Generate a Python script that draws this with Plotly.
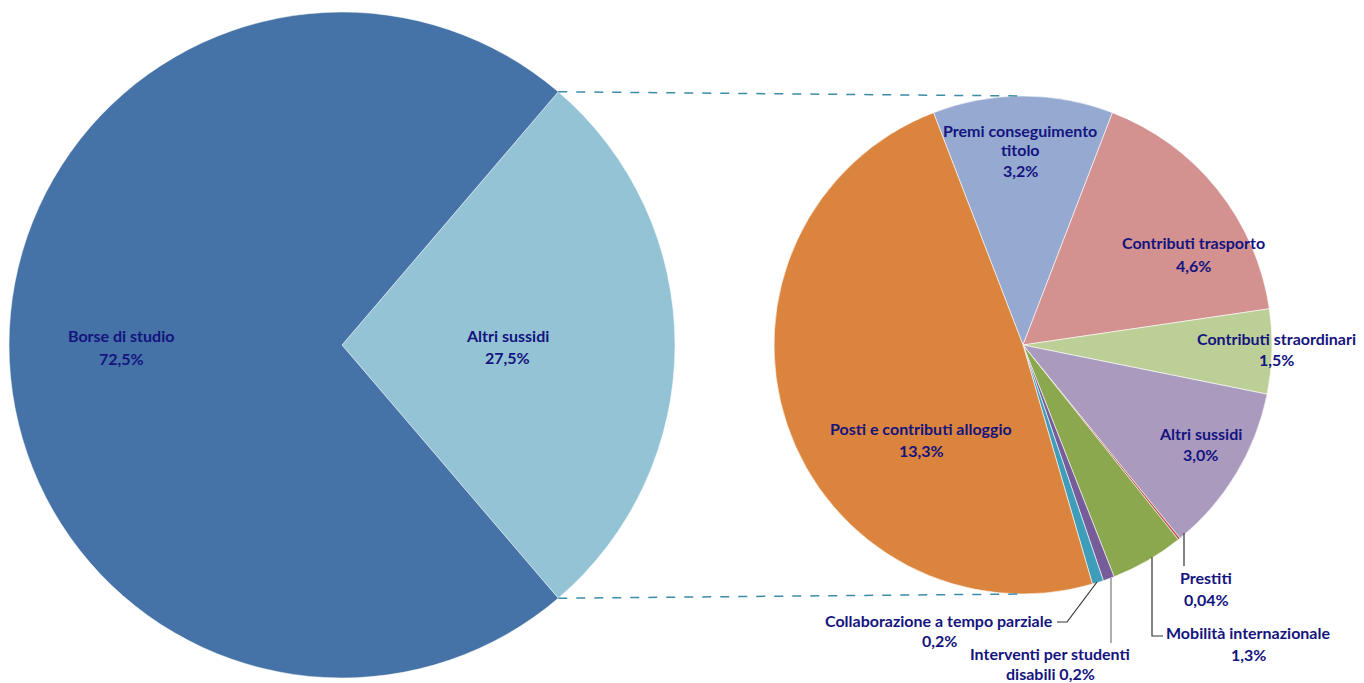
import math
import plotly.graph_objects as go

# ---------------- data ----------------
main_labels = ["Altri sussidi", "Borse di studio"]
main_values = [27.5, 72.5]
main_text = ["27,5%", "72,5%"]

sub_labels = ["Premi conseguimento titolo", "Contributi trasporto", "Contributi straordinari",
              "Altri sussidi", "Prestiti", "Mobilità internazionale",
              "Interventi per studenti disabili", "Collaborazione a tempo parziale",
              "Posti e contributi alloggio"]
sub_values = [3.2, 4.6, 1.5, 3.0, 0.04, 1.3, 0.2, 0.2, 13.3]
sub_text = ["3,2%", "4,6%", "1,5%", "3,0%", "0,04%", "1,3%", "0,2%", "0,2%", "13,3%"]

# ---------------- style / layout ----------------
OFF = 8                      # page body margin
W, H = 1364 - OFF, 683 - OFF
main_colors = ["#93C3D4", "#4572A7"]
sub_colors = ["#95A9D1", "#D39190", "#BCCF96", "#A99ABE", "#C0504D",
              "#8BA84E", "#775C9A", "#3E9DB8", "#DB843D"]
TXT = "#14147E"
FONT = "Lato"
FS = 16

L_C, L_R = (342, 345), 333
R_C, R_R = (1023, 345), 249

def px(x):
    return (x - OFF) / W

def py(y):
    return 1 - (y - OFF) / H

def dom(c, r):
    return dict(x=[px(c[0] - r), px(c[0] + r)], y=[py(c[1] + r), py(c[1] - r)])

main_rot = 90 - main_values[0] / sum(main_values) * 360 / 2
sub_rot = -sub_values[0] / sum(sub_values) * 360 / 2

fig = go.Figure()
fig.add_trace(go.Pie(labels=main_labels, values=main_values, sort=False,
                     direction="clockwise", rotation=main_rot, domain=dom(L_C, L_R),
                     marker=dict(colors=main_colors, line=dict(color="white", width=0.5)),
                     textinfo="none", showlegend=False, name="main"))
fig.add_trace(go.Pie(labels=sub_labels, values=sub_values, sort=False,
                     direction="clockwise", rotation=sub_rot, domain=dom(R_C, R_R),
                     marker=dict(colors=sub_colors, line=dict(color="white", width=0.6)),
                     textinfo="none", showlegend=False, name="sub"))

ann = []
def label(lines, cx, cy, gap=21):
    n = len(lines)
    for i, t in enumerate(lines):
        yy = cy + (i - (n - 1) / 2) * gap
        ann.append(dict(x=px(cx), y=py(yy), xref="paper", yref="paper", text="<b>" + t + "</b>",
                        showarrow=False, font=dict(family=FONT, size=FS, color=TXT),
                        xanchor="center", yanchor="middle"))

label(["Borse di studio", main_text[1]], 121, 347, gap=22)
label(["Altri sussidi", main_text[0]], 507, 346, gap=22)
label(["Premi conseguimento", "titolo", sub_text[0]], 1020, 150, gap=20)
label(["Contributi trasporto", sub_text[1]], 1193, 254, gap=22)
label(["Contributi straordinari", sub_text[2]], 1276, 349, gap=22)
label(["Altri sussidi", sub_text[3]], 1200, 444, gap=21)
label(["Prestiti", sub_text[4]], 1206, 588, gap=22)
label(["Mobilità internazionale", sub_text[5]], 1248, 643, gap=22)
label(["Interventi per studenti", "disabili " + sub_text[6]], 1050, 663, gap=20)
label(["Collaborazione a tempo parziale", sub_text[7]], 939, 630, gap=20)
label(["Posti e contributi alloggio", sub_text[8]], 921, 439, gap=22)

shapes = []
# connector lines between pies (from edge of "Altri sussidi" slice to top/bottom of sub pie)
a0 = math.radians(main_rot)
a1 = math.radians(main_rot + main_values[0] / sum(main_values) * 360)
p_top = (L_C[0] + L_R * math.sin(a0), L_C[1] - L_R * math.cos(a0))
p_bot = (L_C[0] + L_R * math.sin(a1), L_C[1] - L_R * math.cos(a1))
for p, q in [(p_top, (R_C[0], R_C[1] - R_R)), (p_bot, (R_C[0], R_C[1] + R_R))]:
    shapes.append(dict(type="line", xref="paper", yref="paper",
                       x0=px(p[0]), y0=py(p[1]), x1=px(q[0]), y1=py(q[1]),
                       line=dict(color="#3D8CA6", width=1.5, dash="dash")))

# leader lines for small slices
leaders = [
    ([(1184, 533), (1184, 566)], "#333333"),
    ([(1152, 557), (1152, 636), (1163, 636)], "#333333"),
    ([(1111, 578), (1111, 643)], "#777777"),
    ([(1097, 582), (1067, 622), (1057, 622)], "#333333"),
]
for pts, col in leaders:
    path = "M " + " L ".join(f"{px(x)} {py(y)}" for x, y in pts)
    shapes.append(dict(type="path", xref="paper", yref="paper", path=path,
                       line=dict(color=col, width=1.2)))

fig.update_layout(width=W, height=H, margin=dict(l=0, r=0, t=0, b=0),
                  paper_bgcolor="white", plot_bgcolor="white",
                  annotations=ann, shapes=shapes)
fig.write_html("out.html")
